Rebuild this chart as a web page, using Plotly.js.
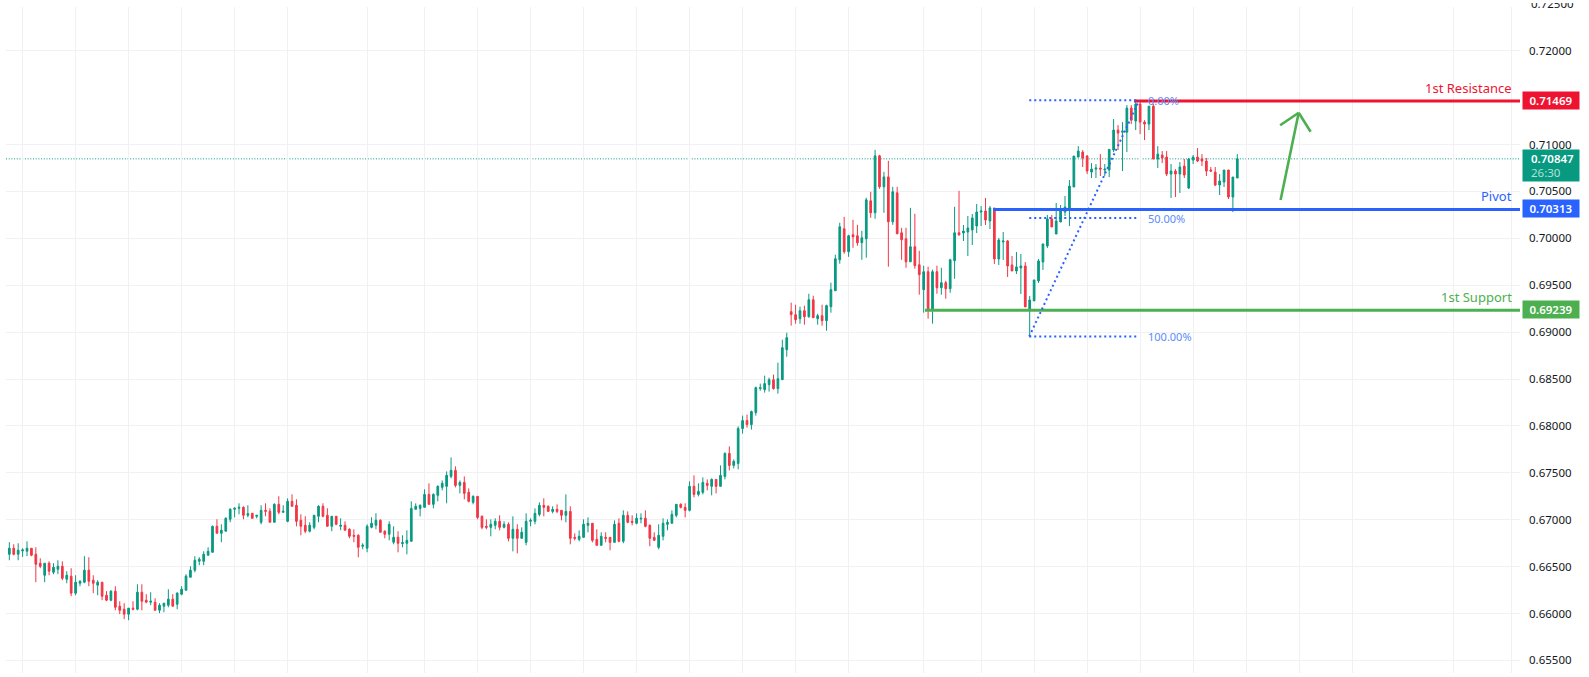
<!DOCTYPE html>
<html><head><meta charset="utf-8">
<script src="https://cdn.plot.ly/plotly-3.0.1.min.js"></script>
<style>html,body{margin:0;padding:0;background:#fff;overflow:hidden}#chart{width:1589px;height:677px}#mask{position:absolute;left:1522px;top:0;width:67px;height:3px;background:#fff}</style>
</head><body><div id="chart"></div><div id="mask"></div>
<script>
// prices in 1/100000 units
const openP=[
66632,66696,66632,66667,66664,66696,66632,66536,66408,66536,
66440,66472,66504,66366,66398,66217,66323,66334,66462,66355,
66302,66334,66195,66142,66238,66078,66046,65993,66057,66046,
66227,66142,66121,66121,66035,66078,66089,66153,66099,66206,
66248,66387,66462,66557,66557,66621,66653,66930,66856,66877,
67005,67111,67122,67132,67047,67069,67037,66973,67100,67090,
66973,67164,67079,66983,67196,67154,66994,66941,66877,66919,
67037,67143,67047,66930,67037,66930,66941,66898,66834,66834,
66717,66696,66919,66941,66994,66877,66845,66760,66813,66745,
66749,66770,67111,67121,67132,67270,67164,67260,67345,67356,
67462,67526,67366,67398,67292,67185,67249,67036,66930,66919,
66940,66983,66919,66951,66802,66898,66802,66759,66983,66983,
67057,67153,67143,67089,67111,67100,67047,67089,66812,66791,
66812,66940,66962,66791,66727,66812,66812,66759,66962,66770,
67047,66983,66962,67008,67015,66940,66812,66706,66823,66951,
66962,67047,67164,67132,67100,67356,67270,67292,67388,67356,
67430,67356,67462,67707,67579,67600,67972,68057,68014,68142,
68398,68387,68440,68493,68398,68493,68813,69218,69186,69143,
69228,69164,69345,69143,69175,69122,69271,69441,69771,70102,
69857,70038,70027,69953,69995,70400,70272,70879,70549,70655,
70176,70485,70059,69995,69750,69910,69718,69452,69644,69239,
69644,69473,69527,69463,69761,70059,70057,70067,70089,70131,
70280,70291,70185,70323,69780,69961,69972,69716,69652,69684,
69705,69237,69333,69546,69748,69918,70206,70046,70174,70280,
70323,70547,70866,70919,70877,70706,70738,70749,70728,70728,
70941,71154,71132,71132,71388,71250,71431,71239,71218,71409,
70845,70888,70866,70685,70717,70685,70770,70536,70834,70866,
70845,70824,70728,70706,70568,70600,70728,70440,70643];
const highP=[
66760,66738,66749,66696,66770,66696,66706,66589,66536,66557,
66536,66568,66557,66451,66483,66408,66355,66611,66600,66408,
66355,66334,66238,66248,66291,66131,66110,66057,66131,66312,
66312,66206,66227,66163,66110,66110,66259,66206,66227,66291,
66419,66504,66611,66600,66664,66706,66937,67005,66951,67026,
67122,67132,67175,67143,67154,67069,67047,67154,67175,67122,
67175,67250,67154,67228,67271,67218,67058,67037,66973,67047,
67154,67175,67122,67037,67037,67015,66983,66909,66898,66845,
66749,66951,67026,67069,67005,66888,66983,66930,66877,66834,
66887,67196,67175,67164,67324,67388,67281,67366,67419,67515,
67664,67569,67419,67462,67334,67260,67249,67047,67004,67004,
67015,67047,66983,66972,67036,66951,66919,67068,67015,67121,
67185,67228,67153,67143,67164,67100,67270,67143,66855,66887,
67004,67025,66962,66898,66866,66866,66812,66993,67015,67100,
67089,67047,67068,67068,67100,66951,66866,66951,67015,67004,
67100,67164,67175,67175,67409,67473,67388,67451,67430,67441,
67430,67579,67718,67782,67643,67995,68110,68121,68163,68419,
68451,68536,68515,68547,68675,68919,68994,69314,69292,69271,
69282,69409,69388,69196,69292,69292,69527,69825,70166,70229,
70038,70197,70144,70080,70432,70496,70943,70890,70709,70826,
70549,70549,70112,70112,70325,70261,69867,69708,69697,69665,
69708,69686,69548,69782,70336,70506,70142,70238,70259,70366,
70344,70430,70344,70323,70004,70067,69982,69812,69854,69833,
69748,69386,69556,69780,69940,70249,70249,70376,70355,70451,
70621,70877,70983,70941,70888,70802,70792,70898,70792,70951,
71271,71207,71239,71420,71420,71473,71473,71260,71409,71431,
70983,70930,70930,70792,70738,70813,70845,70856,70888,70962,
70898,70856,70760,70760,70685,70728,70728,70653,70898];
const lowP=[
66568,66621,66568,66604,66611,66611,66334,66483,66334,66408,
66419,66419,66355,66323,66185,66195,66291,66323,66291,66217,
66195,66142,66131,66131,66035,65993,65940,65929,66035,66035,
66035,66110,66089,66035,66004,66014,66067,66078,66046,66195,
66248,66387,66440,66515,66515,66621,66653,66856,66760,66877,
66973,67026,67058,67005,67026,67015,67015,66951,67037,66973,
66973,67058,67079,66973,67143,66930,66834,66856,66866,66898,
66973,67026,66930,66877,66941,66888,66888,66802,66760,66600,
66685,66653,66909,66898,66866,66802,66781,66738,66653,66706,
66631,66770,67111,67036,67132,67164,67121,67196,67313,67175,
67441,67345,67281,67217,67185,67164,67004,66898,66898,66823,
66898,66887,66908,66770,66663,66642,66802,66727,66930,66951,
67036,67036,67089,67068,67068,66993,66972,66738,66780,66770,
66812,66866,66759,66727,66727,66759,66674,66759,66759,66749,
66962,66940,66951,66962,66919,66717,66780,66685,66780,66887,
66962,67025,67121,67025,67089,67238,67249,67270,67313,67260,
67281,67356,67430,67526,67547,67537,67918,67982,67961,68110,
68376,68355,68366,68387,68344,68493,68738,69069,69090,69090,
69079,69154,69154,69079,69069,69015,69207,69441,69729,69835,
69803,69899,69921,69771,69793,70219,70208,70528,70272,69697,
70144,70048,69771,69686,69750,69676,69399,69207,69143,69090,
69409,69399,69356,69420,69569,70027,69972,69812,69929,70057,
70131,70142,70099,69727,69716,69769,69588,69652,69620,69407,
69269,68953,69333,69524,69663,69897,70121,70046,70174,70238,
70131,70547,70866,70760,70685,70643,70643,70664,70664,70653,
70919,70941,70717,70919,71218,71154,71111,71047,71154,70845,
70749,70802,70664,70430,70440,70483,70643,70525,70792,70813,
70770,70664,70706,70557,70462,70547,70419,70280,70643];
const closeP=[
66696,66632,66675,66678,66696,66621,66525,66504,66536,66451,
66493,66504,66376,66408,66217,66334,66344,66462,66344,66323,
66334,66185,66142,66238,66067,66035,65993,66057,66046,66227,
66131,66121,66131,66035,66089,66110,66153,66078,66217,66259,
66398,66462,66568,66579,66632,66664,66930,66856,66888,67015,
67111,67122,67132,67047,67065,67015,67047,67100,67090,66973,
67164,67079,67090,67196,67143,66983,66930,66877,66941,67047,
67143,67037,66930,67037,66951,66941,66888,66824,66824,66706,
66728,66930,66962,66994,66866,66845,66951,66813,66749,66756,
66780,67121,67143,67153,67270,67164,67270,67356,67388,67473,
67526,67366,67398,67281,67196,67249,67025,66919,66919,66951,
66983,66919,66951,66802,66898,66802,66866,66983,66993,67068,
67153,67132,67089,67111,67089,67047,67089,66802,66802,66823,
66951,66962,66780,66727,66823,66802,66759,66951,66770,67047,
66972,66972,67015,67015,66930,66802,66780,66834,66962,66972,
67057,67164,67132,67100,67356,67270,67302,67398,67366,67430,
67356,67473,67707,67579,67622,67973,68057,68014,68153,68408,
68408,68451,68493,68398,68504,68834,68941,69186,69132,69228,
69164,69345,69154,69175,69122,69282,69452,69782,70123,69857,
70027,70016,69953,70006,70410,70272,70879,70549,70655,70176,
70496,70048,69984,69750,69910,69708,69612,69644,69239,69644,
69473,69527,69463,69771,70059,70038,70078,70110,70217,70280,
70291,70195,70323,69780,69982,69972,69705,69652,69695,69705,
69269,69343,69556,69759,69940,70206,70121,70185,70302,70334,
70557,70877,70930,70856,70717,70738,70749,70738,70738,70948,
71154,71122,71143,71388,71260,71431,71239,71218,71409,70845,
70898,70856,70685,70717,70685,70760,70675,70845,70866,70824,
70824,70717,70717,70568,70611,70728,70440,70653,70847];

const xGrid=[3,15,27,39,51,63,81,94,106,118,130,142,154,166,178,190,207,220,232,244,256,268,280,292,304,327,340];
const yTicks=[0.655,0.66,0.665,0.67,0.675,0.68,0.685,0.69,0.695,0.70,0.705,0.71,0.72];
const yLabels=yTicks.map(v=>v.toFixed(5));
const topTick=0.725;
const resistance=0.71469, pivot=0.70313, support=0.69239, lastPrice=0.70847;
const fibLow=0.68953, fibMid=0.70216, fibHigh=0.71473;
const xRange=[-0.754,342.0], yRange=[0.65366,0.72466];

const RED='#f23645',TEAL='#089981',LRED='#ee1431',BLUE='#2962ff',GREEN='#4caf50',FIB='#5b8cf8',INK='#131722';
const FONT='"Noto Sans", sans-serif';
const scale=a=>a.map(v=>v/1e5);
const idx=openP.map((_,i)=>i);

const trace={type:'candlestick',x:idx,open:scale(openP),high:scale(highP),low:scale(lowP),close:scale(closeP),
  increasing:{line:{color:TEAL,width:1},fillcolor:TEAL},decreasing:{line:{color:RED,width:1},fillcolor:RED},
  whiskerwidth:0,hoverinfo:'skip',showlegend:false};

const LEVEL_NUDGE=-0.00006;
const hline=(x0,y,color)=>({type:'line',xref:'x',yref:'y',x0,x1:xRange[1],y0:y+LEVEL_NUDGE,y1:y+LEVEL_NUDGE,line:{color,width:3}});
const fibLine=(y)=>({type:'line',xref:'x',yref:'y',x0:230.9,x1:255.8,y0:y,y1:y,line:{color:BLUE,width:2,dash:'2px,3px'}});
const arrowLine=(x0,y0,x1,y1)=>({type:'line',xref:'x',yref:'y',x0,y0,x1,y1,line:{color:GREEN,width:2.6}});
const shapes=[
  {type:'line',xref:'x',yref:'y',layer:'below',x0:xRange[0],x1:xRange[1],y0:lastPrice,y1:lastPrice,line:{color:TEAL,width:1,dash:'1px,1.7px'}},
  hline(254.6,resistance,LRED),hline(222.7,pivot,BLUE),hline(207.3,support,GREEN),
  fibLine(fibHigh),fibLine(fibMid),fibLine(fibLow),
  {type:'line',xref:'x',yref:'y',x0:230.9,x1:255.8,y0:fibLow,y1:fibHigh,line:{color:BLUE,width:2,dash:'2px,3px'}},
  arrowLine(287.8,0.70408,291.9,0.71339),arrowLine(287.7,0.71205,291.9,0.71339),arrowLine(294.6,0.71136,291.9,0.71339)
];

const BOXX=(1522-6)/1514, TXTX=(1530-6)/1514, LBLX=(1513-6)/1514;
const box=(y,text,color)=>({xref:'paper',yref:'y',x:BOXX,xanchor:'left',y,yanchor:'middle',text,showarrow:false,bgcolor:color,width:56,height:16.5,borderpad:0,align:'center',font:{family:FONT,size:11.5,color:'#fff',weight:600}});
const plainBox=(y,color,yshift)=>({xref:'paper',yref:'y',x:BOXX,xanchor:'left',y,yanchor:'middle',text:'&nbsp;',showarrow:false,bgcolor:color,width:56,height:31,borderpad:0,yshift});
const boxText=(y,text,color,yshift,weight)=>({xref:'paper',yref:'y',x:TXTX,xanchor:'left',y,yanchor:'middle',text,showarrow:false,yshift,borderpad:0,font:{family:FONT,size:11.5,color,weight}});
const lbl=(y,text,color)=>({xref:'paper',yref:'y',x:LBLX,xanchor:'right',y,yanchor:'middle',yshift:13,text,showarrow:false,borderpad:0,font:{family:FONT,size:13,color}});
const fibTxt=(y,text)=>({xref:'x',yref:'y',x:257.6,xanchor:'left',y,yanchor:'middle',text,showarrow:false,borderpad:0,font:{family:FONT,size:11,color:FIB}});
const annotations=[
  {xref:'paper',yref:'paper',x:TXTX,xanchor:'left',y:(topTick-yRange[0])/(yRange[1]-yRange[0]),yanchor:'middle',text:topTick.toFixed(5),showarrow:false,borderpad:0,font:{family:FONT,size:11.5,color:INK}},
  box(resistance,'0.71469',LRED),box(pivot,'0.70313',BLUE),box(support,'0.69239',GREEN),
  plainBox(lastPrice,TEAL,-7),
  boxText(lastPrice,'0.70847','#fff',0,600),boxText(lastPrice,'26:30','#b5e0d8',-14,400),
  lbl(resistance,'1st Resistance',LRED),lbl(pivot,'Pivot',BLUE),lbl(support,'1st Support',GREEN),
  fibTxt(fibHigh,'0.00%'),fibTxt(fibMid,'50.00%'),fibTxt(fibLow,'100.00%')
];

const layout={width:1589,height:677,autosize:false,paper_bgcolor:'#fff',plot_bgcolor:'#fff',showlegend:false,dragmode:false,
  margin:{l:6,r:69,t:7,b:4,pad:0},boxgap:0.45,hovermode:false,
  font:{family:FONT,color:INK},
  xaxis:{type:'linear',range:xRange,tickvals:xGrid,showticklabels:false,ticks:'',showgrid:true,gridcolor:'#f1f1f4',gridwidth:1,zeroline:false,showline:false,rangeslider:{visible:false}},
  yaxis:{side:'right',range:yRange,tickvals:yTicks,ticktext:yLabels,ticks:'',ticklen:0,ticklabelstandoff:8,showgrid:true,gridcolor:'#f1f1f4',gridwidth:1,zeroline:false,showline:false,tickfont:{family:FONT,size:11.5,color:INK}},
  shapes,annotations};
Plotly.newPlot('chart',[trace],layout,{displayModeBar:false,staticPlot:true});
</script></body></html>
